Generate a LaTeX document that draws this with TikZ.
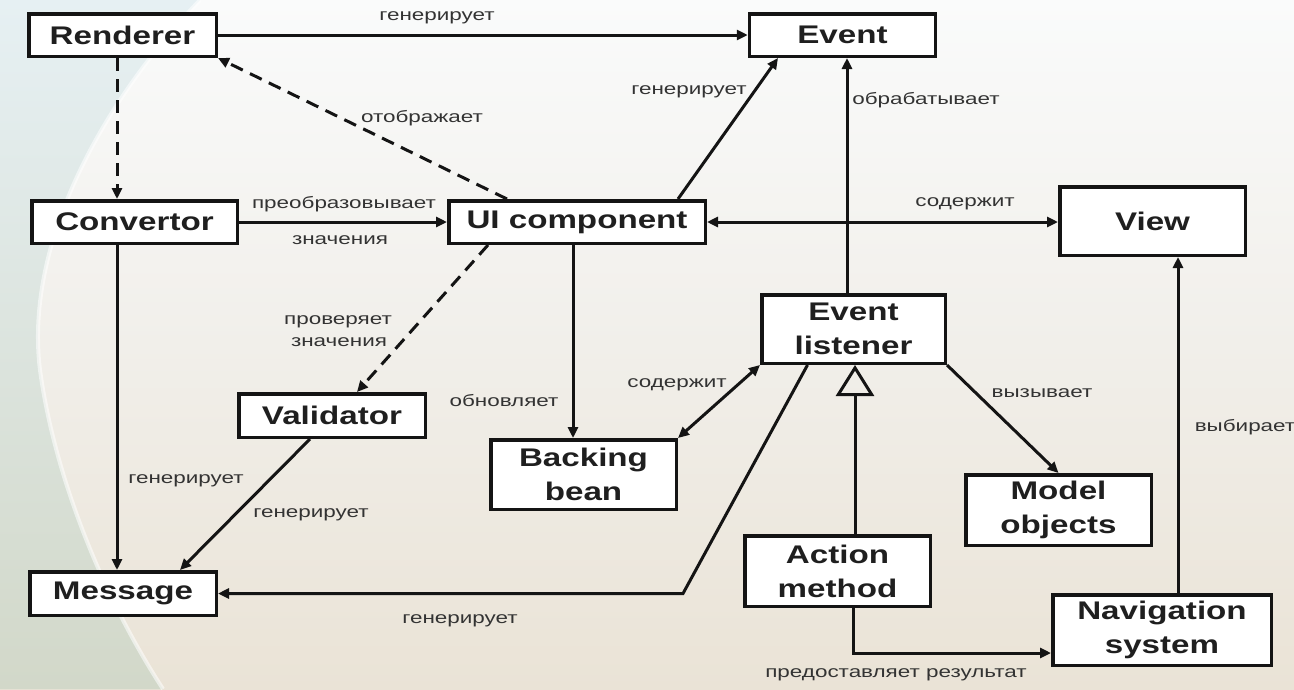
\documentclass[tikz,border=0pt]{standalone}
\usepackage{fontspec}
\setmainfont{Liberation Sans}
\newfontfamily\boxfont[FakeStretch=1.3]{Liberation Sans}
\newfontfamily\labfont[FakeStretch=1.36]{Liberation Sans}
\usetikzlibrary{arrows.meta,calc}

\definecolor{bgtop}{HTML}{FAFBFB}
\definecolor{bgmid}{HTML}{F1EFEA}
\definecolor{bgbot}{HTML}{EAE3D6}
\definecolor{lefttop}{HTML}{E6F0F3}
\definecolor{leftmid}{HTML}{A3C5D1}
\definecolor{leftbot}{HTML}{D2D8C9}
\definecolor{labgray}{HTML}{333333}

\begin{document}
\begin{tikzpicture}[x=1pt,y=-1pt,
  box/.style={draw=black!92, line width=3.5pt, fill=white, inner sep=0pt,
    align=center, text=black!88,
    font=\boxfont\bfseries\fontsize{25.5}{34}\selectfont},
  lab/.style={inner sep=0pt, text=labgray, text height=12pt, text depth=3.5pt,
    font=\labfont\fontsize{16.5}{19}\selectfont},
  conn/.style={draw=black!92, line width=3pt},
  arr/.style={conn, -{Triangle[length=11pt,width=10pt]}},
  biarr/.style={conn, {Triangle[length=11pt,width=10pt]}-{Triangle[length=11pt,width=10pt]}},
  dasharr/.style={arr, dash pattern=on 13pt off 8pt},
  inherit/.style={conn, -{Triangle[open,length=31pt,width=38pt,line width=3pt]}}
]
\useasboundingbox (0,0) rectangle (1294,689);

% slide background
\shade[top color=bgtop, bottom color=bgbot, middle color=bgmid]
  (0,0) rectangle (1294,689);
\shade[top color=lefttop, middle color=leftmid, bottom color=leftbot]
  (0,0) -- (200,0) .. controls (95,110) and (25,250) .. (40,370)
  .. controls (55,480) and (105,600) .. (163,689) -- (0,689) -- cycle;
\draw[white, opacity=0.55, line width=4pt]
  (200,0) .. controls (95,110) and (25,250) .. (40,370)
  .. controls (55,480) and (105,600) .. (163,689);

% boxes
\node[box, minimum width=187.5pt, minimum height=42.5pt] (ren)  at (122.5,35)  {Renderer};
\node[box, minimum width=186pt,   minimum height=42.5pt] (evt)  at (842.5,35)  {Event};
\node[box, minimum width=205.5pt, minimum height=42.5pt] (conv) at (134.5,222) {Convertor};
\node[box, minimum width=256.5pt, minimum height=42.5pt] (ui)   at (577,222)   {UI component};
\node[box, minimum width=185.5pt, minimum height=68.5pt] (view) at (1152.5,221) {View};
\node[box, minimum width=183.5pt, minimum height=68.5pt] (el)   at (853.5,329) {Event\\listener};
\node[box, minimum width=186.5pt, minimum height=43.5pt] (val)  at (332,415.5) {Validator};
\node[box, minimum width=185.5pt, minimum height=69.5pt] (bb)   at (583.5,474.5) {Backing\\bean};
\node[box, minimum width=186.5pt, minimum height=43.5pt] (msg)  at (123,593.5) {Message};
\node[box, minimum width=185.5pt, minimum height=70.5pt] (mo)   at (1058.5,510) {Model\\objects};
\node[box, minimum width=185.5pt, minimum height=70.5pt] (am)   at (837.5,571) {Action\\method};
\node[box, minimum width=218.5pt, minimum height=70.5pt] (nav)  at (1162,630)  {Navigation\\system};

\coordinate (elbend) at (683,593.5);

% connectors
\draw[arr] (ren) -- (evt);
\draw[dasharr] ([xshift=-70pt]ui.north) -- (ren.south east);
\draw[dasharr] ([xshift=-5.5pt]ren.south) -- ([xshift=-5.5pt]ren.south |- conv.north);
\draw[arr] (conv) -- (ui);
\draw[arr] ([xshift=101pt]ui.north) -- ([xshift=-64.5pt]evt.south);
\draw[arr] ([xshift=-6.5pt]el.north) -- ([xshift=-6.5pt]el.north |- evt.south);
\draw[biarr] (ui.east) -- (ui.east -| view.west);
\draw[dasharr] ([xshift=-89pt]ui.south) -- ([xshift=25pt]val.north);
\draw[arr] ([xshift=-4pt]ui.south) -- ([xshift=-4pt]ui.south |- bb.north);
\draw[biarr] (el.south west) -- (bb.north east);
\draw[arr] ([xshift=-17.5pt]conv.south) -- ([xshift=-17.5pt]conv.south |- msg.north);
\draw[arr] ([xshift=-22pt]val.south) -- ([xshift=57pt]msg.north);
\draw[arr] ([xshift=-46pt]el.south) -- (elbend) -- (msg.east);
\draw[inherit] ([xshift=17.5pt]am.north) -- ([xshift=17.5pt]am.north |- el.south);
\draw[arr] (el.south east) -- (mo.north);
\draw[arr] ([xshift=15.5pt]am.south) |- ([yshift=-23pt]nav.west);
\draw[arr] ([xshift=16pt]nav.north) -- ([xshift=16pt]nav.north |- view.south);

% connector labels
\node[lab] (t1)  at (437,16)   {генерирует};
\node[lab] (t2)  at (422,118)  {отображает};
\node[lab] (t3)  at (344,204)  {преобразовывает};
\node[lab] (t4)  at (340,240)  {значения};
\node[lab] (t5)  at (689,90)   {генерирует};
\node[lab] (t6)  at (926,100)  {обрабатывает};
\node[lab] (t7)  at (965,202)  {содержит};
\node[lab] (t8a) at (338,320)  {проверяет};
\node[lab] (t8b) at (339,342)  {значения};
\node[lab] (t9)  at (504,402)  {обновляет};
\node[lab] (t10) at (677,383)  {содержит};
\node[lab] (t11) at (1042,393) {вызывает};
\node[lab] (t12) at (1245,427) {выбирает};
\node[lab] (t13) at (186,479)  {генерирует};
\node[lab] (t14) at (311,513)  {генерирует};
\node[lab] (t15) at (460,619)  {генерирует};
\node[lab] (t16) at (896,673)  {предоставляет результат};
\end{tikzpicture}
\end{document}
